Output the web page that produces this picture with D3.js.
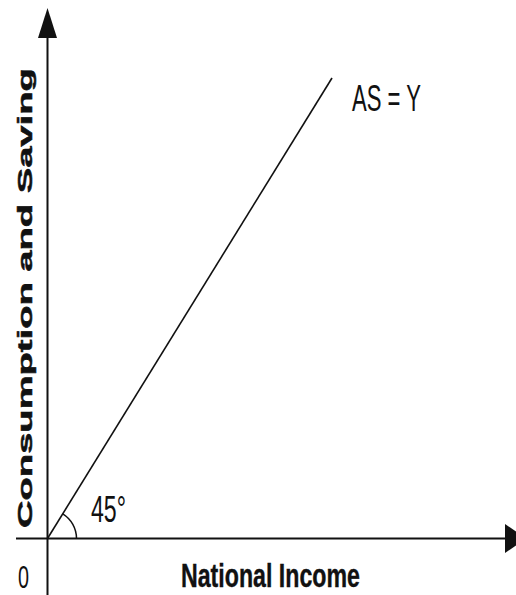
<!DOCTYPE html>
<html>
<head>
<meta charset="utf-8">
<script src="https://cdn.jsdelivr.net/npm/d3@7"></script>
<style>
  body { margin: 0; background: #fff; }
  svg { display: block; }
  text { font-family: "Liberation Sans", Arial, sans-serif; fill: #111; }
</style>
</head>
<body>
<div id="chart"></div>
<script>
const width = 516;
const height = 595;

// AS = Y line (income on x, consumption + saving on y)
const incomeValues = [0, 10];
const spendingValues = [0, 10];
const lineLabel = "AS = Y";
const angleLabel = "45°";
const originLabel = "0";
const xTitle = "National Income";
const yTitle = "Consumption and Saving";

const svg = d3.select("#chart")
    .append("svg")
    .attr("width", width)
    .attr("height", height);

const x = d3.scaleLinear()
    .domain([0, 10])
    .range([47.5, 332]);

const y = d3.scaleLinear()
    .domain([0, 10])
    .range([538.5, 78]);

const ink = "#111";

// x axis, with arrow head running off the right edge
svg.append("line")
    .attr("x1", 16).attr("x2", 510)
    .attr("y1", y(0)).attr("y2", y(0))
    .attr("stroke", ink)
    .attr("stroke-width", 2.2);

svg.append("path")
    .attr("d", `M505,${y(0) - 14.5} L526,${y(0)} L505,${y(0) + 14.5} Z`)
    .attr("fill", ink);

// y axis with arrow head on top
svg.append("line")
    .attr("x1", x(0)).attr("x2", x(0))
    .attr("y1", 30).attr("y2", height)
    .attr("stroke", ink)
    .attr("stroke-width", 2);

svg.append("path")
    .attr("d", `M${x(0) - 9.5},38 L${x(0)},8 L${x(0) + 9.5},38 Z`)
    .attr("fill", ink);

// the 45 degree line
const pts = incomeValues.map((v, i) => [v, spendingValues[i]]);
const line = d3.line()
    .x(d => x(d[0]))
    .y(d => y(d[1]));

svg.append("path")
    .datum(pts)
    .attr("d", line)
    .attr("fill", "none")
    .attr("stroke", ink)
    .attr("stroke-width", 1.6);

// angle arc at the origin
const last = pts[pts.length - 1];
const ang = Math.atan2(y(last[1]) - y(0), x(last[0]) - x(0));
const arc = d3.path();
arc.arc(x(0), y(0), 29, ang, 0);
svg.append("path")
    .attr("d", arc.toString())
    .attr("fill", "none")
    .attr("stroke", ink)
    .attr("stroke-width", 1.5);

// the scan is stretched, so squeeze/stretch each label along its baseline
function label(tx, ty, rot, size, weight, len, txt) {
    const t = svg.append("text")
        .attr("font-size", size)
        .attr("font-weight", weight)
        .text(txt);
    const natural = t.node().getComputedTextLength();
    t.attr("transform", `translate(${tx},${ty}) rotate(${rot}) scale(${len / natural},1)`);
    return t;
}

label(352, 111, 0, 37, "normal", 69, lineLabel);
label(91, 522, 0, 37, "normal", 35, angleLabel);
label(18, 588, 0, 32, "normal", 11, originLabel);
label(181, 587, 0, 33, "bold", 179, xTitle)
    .attr("stroke", ink).attr("stroke-width", 0.4);
label(32, 528, -90, 21, "bold", 460, yTitle)
    .attr("stroke", ink).attr("stroke-width", 0.5);
</script>
</body>
</html>
